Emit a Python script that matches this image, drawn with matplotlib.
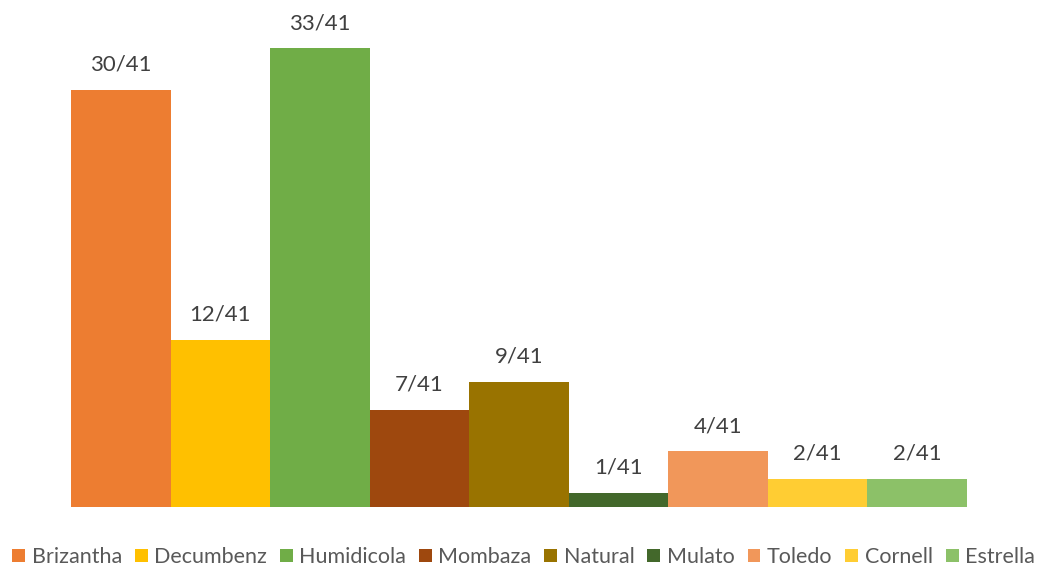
import matplotlib
matplotlib.use("Agg")
import matplotlib.pyplot as plt
from matplotlib.patches import Patch

categories = ["Brizantha", "Decumbenz", "Humidicola", "Mombaza", "Natural",
              "Mulato", "Toledo", "Cornell", "Estrella"]
values = [30, 12, 33, 7, 9, 1, 4, 2, 2]
total = 41
labels = [f"{v}/{total}" for v in values]
colors = ["#ED7D31", "#FFC000", "#70AD47", "#9E480E", "#997300",
          "#43682B", "#F1975A", "#FFCD33", "#8CC168"]

plt.rcParams['font.family'] = ['Lato', 'DejaVu Sans']

W, H = 1037, 569
fig = plt.figure(figsize=(W/100, H/100), dpi=100)
unit = 13.9
ax = fig.add_axes([71/W, (H-507)/H, 896/W, 35*unit/H])
x = list(range(len(categories)))
bars = ax.bar(x, values, width=1.0, color=colors)
ax.set_xlim(-0.5, len(categories)-0.5)
ax.set_ylim(0, 35)
ax.axis('off')
for xi, v, lab in zip(x, values, labels):
    ax.annotate(lab, (xi, v), xytext=(0, 11), textcoords='offset points',
                ha='center', va='bottom', fontsize=16, color='#404040')

handles = [Patch(facecolor=c, edgecolor='none') for c in colors]
fig.legend(handles, categories, loc='center', bbox_to_anchor=(523.5/W, (H-557)/H),
           ncol=len(categories), frameon=False, fontsize=15.5,
           labelcolor='#595959', handlelength=0.6, handleheight=0.6,
           handletextpad=0.3, columnspacing=0.6, borderaxespad=0, borderpad=0)
fig.savefig("out.png", dpi=100)
